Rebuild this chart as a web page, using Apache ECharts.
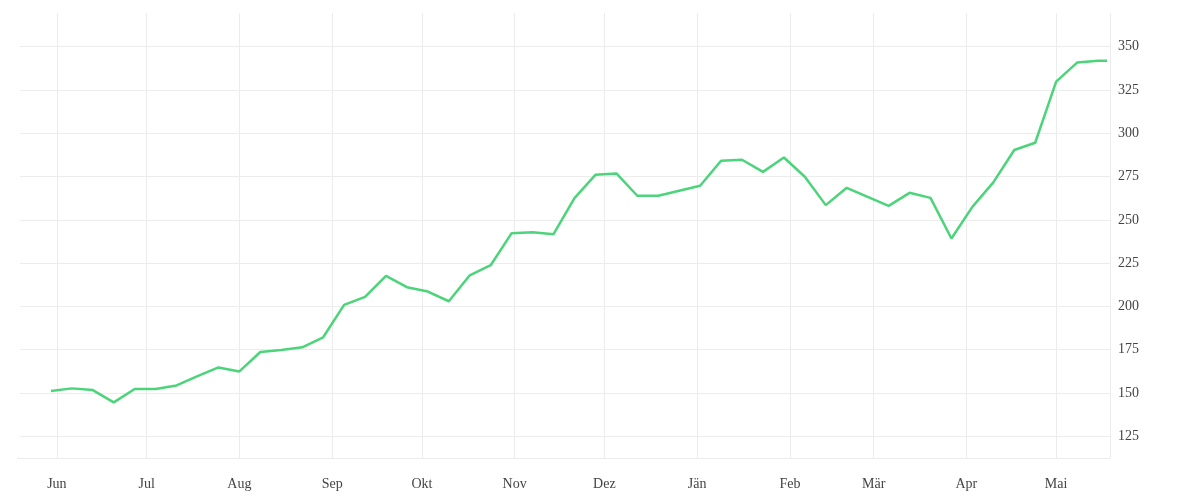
<!DOCTYPE html>
<html><head><meta charset="utf-8">
<script src="https://cdn.jsdelivr.net/npm/echarts@6/dist/echarts.min.js"></script>
<style>html,body{margin:0;padding:0;background:#fff}#c{width:1200px;height:500px}</style>
</head><body><div id="c"></div>
<script>
const startDate = '2022-05-30';
const values = [151.2,152.7,151.7,144.6,152.3,152.3,154.4,159.8,164.8,162.5,173.7,174.9,176.4,182.2,200.9,205.5,217.6,211.1,208.6,203,218,223.8,242.3,242.9,241.7,262.5,276,
276.8,263.9,263.9,266.8,269.7,284.1,284.7,277.7,286,274.9,258.5,268.5,263.3,258.1,265.6,262.7,239.2,257.5,271.6,290.3,294.5,329.8,340.8,341.9];
const lastDate = '2023-05-18';
const lastValue = 341.9;
const monthLabels = ['Jän','Feb','Mär','Apr','Mai','Jun','Jul','Aug','Sep','Okt','Nov','Dez'];

const DAY = 86400000;
const t0 = Date.parse(startDate + 'T00:00:00');
const data = values.map((v,i)=>[t0 + i*7*DAY, v]);
data.push([Date.parse(lastDate+'T00:00:00'), lastValue]);

const font = 'Liberation Serif';
const chart = echarts.init(document.getElementById('c'));
chart.setOption({
  animation:false,
  grid:{left:18,right:90,top:12,bottom:42},
  xAxis:{type:'time',
    min:Date.parse('2022-05-19T00:00:00'), max:Date.parse('2023-05-19T00:00:00'),
    minInterval:28*DAY, maxInterval:31*DAY,
    axisLine:{show:true,lineStyle:{color:'#ececec',width:1}}, axisTick:{show:false},
    axisLabel:{color:'#444',fontFamily:font,fontSize:14,margin:19,
      formatter:v=>monthLabels[new Date(v).getMonth()]},
    splitLine:{show:true,lineStyle:{color:'#ececec',width:1}}
  },
  yAxis:{type:'value',position:'right',min:112.5,max:370,interval:12.5,
    axisLine:{show:false}, axisTick:{show:false},
    axisLabel:{color:'#444',fontFamily:font,fontSize:14,margin:8,
      formatter:v=>(v%25===0?String(v):''), showMaxLabel:false},
    splitLine:{show:true,lineStyle:{color:['transparent','#ececec'],width:1}}
  },
  graphic:[
    {type:'rect',z:100,shape:{x:10,y:10,width:1105,height:3},style:{fill:'#fff'}},
    {type:'rect',z:100,shape:{x:16,y:10,width:4,height:447},style:{fill:'#fff'}}
  ],
  series:[{type:'line',data:data,showSymbol:false,
    lineStyle:{color:'#4cd47a',width:2.5},itemStyle:{color:'#4cd47a'}}]
});
</script></body></html>
